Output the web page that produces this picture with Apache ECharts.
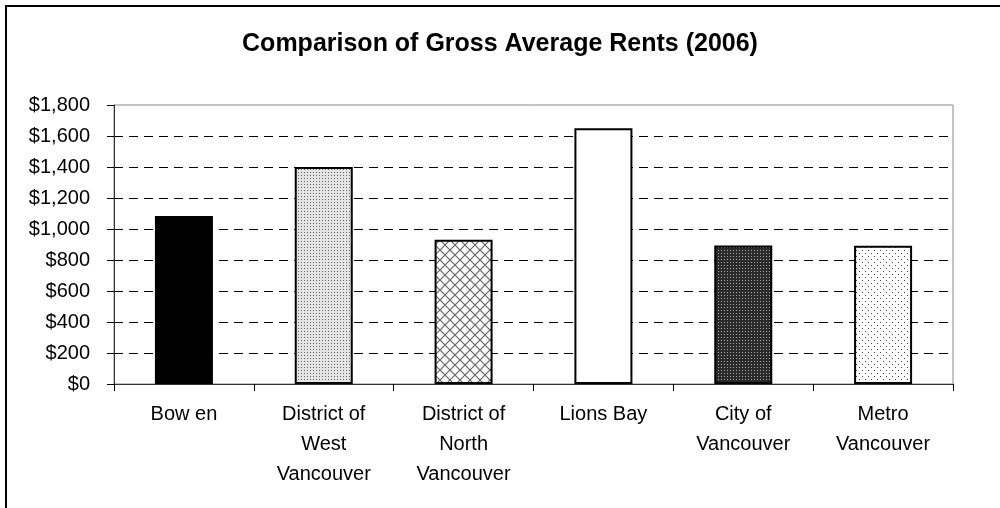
<!DOCTYPE html>
<html style="height: 100%">
<head>
    <meta charset="utf-8">
    <script src="https://cdn.jsdelivr.net/npm/echarts@6/dist/echarts.min.js"></script>
</head>
<body style="height: 100%; margin: 0; background: #fff">
    <div id="main" style="width:1000px;height:508px;"></div>
    <script type="text/javascript">
    // data
    var categories = ['Bow en', 'District of\nWest\nVancouver', 'District of\nNorth\nVancouver', 'Lions Bay', 'City of\nVancouver', 'Metro\nVancouver'];
    var rents = [1084, 1400, 930, 1650, 893, 892];
    var yTicks = [0, 200, 400, 600, 800, 1000, 1200, 1400, 1600, 1800];

    // small canvas tiles for the Excel-like fill patterns
    function tile(w, h, draw) {
        var c = document.createElement('canvas');
        c.width = w; c.height = h;
        draw(c.getContext('2d'));
        return { image: c, repeat: 'repeat' };
    }
    var fills = [
        '#000',
        tile(3, 3, function (g) {
            g.fillStyle = '#e4e4e4'; g.fillRect(0, 0, 3, 3);
            g.fillStyle = '#666'; g.fillRect(1, 1, 1, 1);
        }),
        tile(10, 10, function (g) {
            g.fillStyle = '#fff'; g.fillRect(0, 0, 10, 10);
            g.strokeStyle = '#666'; g.lineWidth = 1.2;
            g.beginPath();
            g.moveTo(0, 0); g.lineTo(10, 10);
            g.moveTo(10, 0); g.lineTo(0, 10);
            g.stroke();
        }),
        '#fff',
        tile(3, 3, function (g) {
            g.fillStyle = '#2a2a2a'; g.fillRect(0, 0, 3, 3);
            g.fillStyle = '#aaa'; g.fillRect(1, 1, 1, 1);
        }),
        tile(6, 6, function (g) {
            g.fillStyle = '#fff'; g.fillRect(0, 0, 6, 6);
            g.fillStyle = '#444';
            g.fillRect(1, 1, 1, 1); g.fillRect(4, 4, 1, 1);
        })
    ];

    var myChart = echarts.init(document.getElementById('main'));
    var font = "'Liberation Sans', Arial, sans-serif";

    var option = {
        animation: false,
        backgroundColor: '#fff',
        title: {
            text: 'Comparison of Gross Average Rents (2006)',
            left: 'center',
            top: 27,
            textStyle: { fontFamily: font, fontSize: 25, fontWeight: 'bold', color: '#000' }
        },
        graphic: [{
            type: 'rect',
            shape: { x: 6, y: 6, width: 1100, height: 600 },
            style: { fill: 'none', stroke: '#000', lineWidth: 2 },
            silent: true
        }],
        grid: {
            left: 114, right: 47, top: 105, bottom: 124,
            show: true, borderColor: '#888', borderWidth: 1,
            backgroundColor: 'transparent'
        },
        xAxis: {
            type: 'category',
            data: categories,
            axisLine: { lineStyle: { color: '#333', width: 1 } },
            axisTick: { show: true, length: 7, lineStyle: { color: '#000' } },
            axisLabel: {
                fontFamily: font, fontSize: 20, color: '#000',
                lineHeight: 30, margin: 15, interval: 0
            }
        },
        yAxis: {
            type: 'value',
            min: 0, max: 1800, interval: 200,
            axisLine: { show: true, lineStyle: { color: '#333', width: 1 } },
            axisTick: { show: true, length: 7, lineStyle: { color: '#000' } },
            axisLabel: {
                fontFamily: font, fontSize: 20, color: '#000', margin: 24,
                formatter: function (v) {
                    if (yTicks.indexOf(v) < 0) return '';
                    return '$' + v.toString().replace(/\B(?=(\d{3})+(?!\d))/g, ',');
                }
            },
            splitLine: {
                show: true, showMinLine: false, showMaxLine: false,
                lineStyle: { color: '#000', width: 1, type: [9, 6] }
            }
        },
        series: [{
            type: 'bar',
            barWidth: 58,
            data: rents.map(function (v, i) {
                return {
                    value: v,
                    itemStyle: { color: fills[i], borderColor: '#000', borderWidth: 2 }
                };
            })
        }]
    };
    myChart.setOption(option);
    </script>
</body>
</html>
